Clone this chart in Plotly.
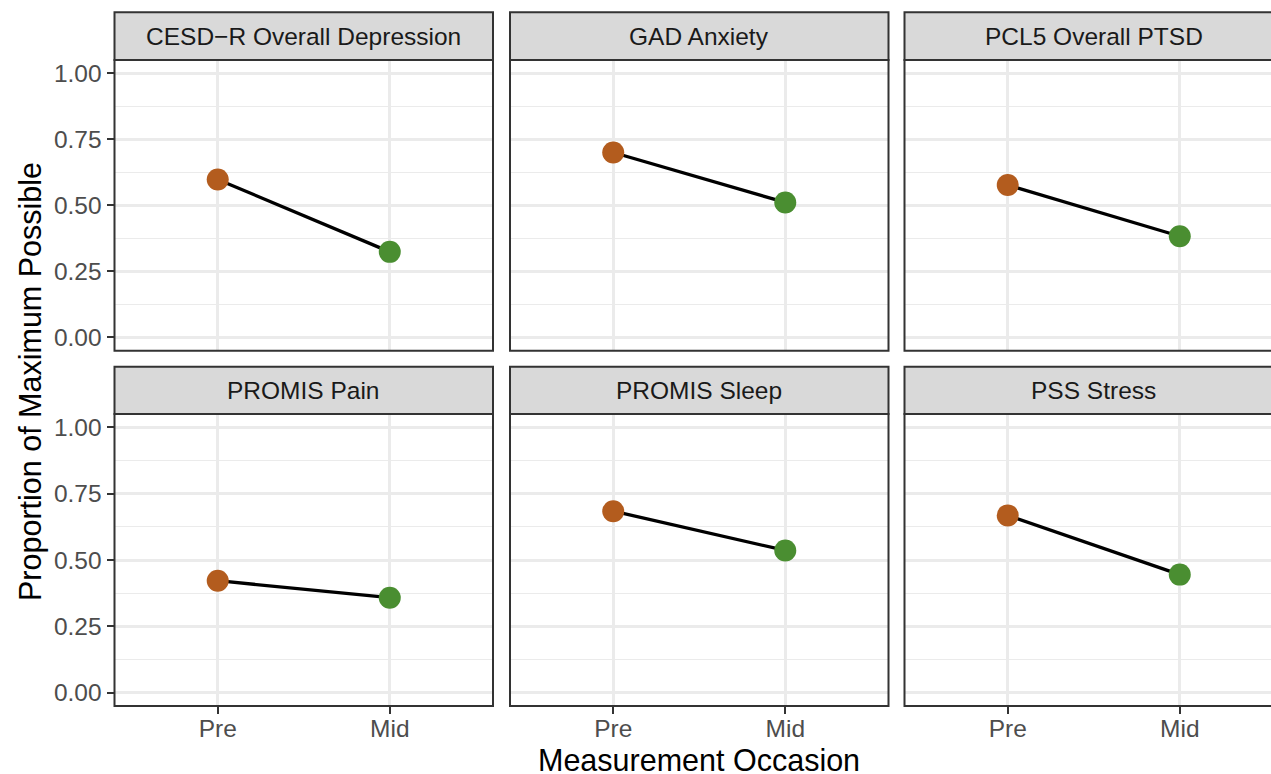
import plotly.graph_objects as go

# ---- data ----
measures = [
    "CESD\u2212R Overall Depression",
    "GAD Anxiety",
    "PCL5 Overall PTSD",
    "PROMIS Pain",
    "PROMIS Sleep",
    "PSS Stress",
]
occasions = ["Pre", "Mid"]
pre_values = [0.598, 0.700, 0.577, 0.422, 0.684, 0.668]
mid_values = [0.324, 0.511, 0.383, 0.358, 0.536, 0.445]
y_tick_values = [0.0, 0.25, 0.5, 0.75, 1.0]
y_tick_labels = ["0.00", "0.25", "0.50", "0.75", "1.00"]
y_minor_values = [0.125, 0.375, 0.625, 0.875]

# ---- styling / layout constants ----
occasion_colors = ["#B35C1E", "#4A8E31"]
FONT = "Liberation Sans, Arial, sans-serif"
W, H = 1271, 774
col_px = [(114.5, 493.0), (510.0, 888.5), (904.5, 1283.0)]
row_px = [(60.0, 350.7), (414.0, 706.0)]
strip_px = [(12.3, 60.0), (366.7, 414.0)]
GRID = "#EBEBEB"
BORDER = "#333333"

fig = go.Figure()
layout_axes = {}
shapes = []
annotations = []

for i, name in enumerate(measures):
    r, c = divmod(i, 3)
    n = i + 1
    xa = "x" if n == 1 else f"x{n}"
    ya = "y" if n == 1 else f"y{n}"
    fig.add_trace(go.Scatter(
        x=occasions, y=[pre_values[i], mid_values[i]],
        mode="lines+markers",
        line=dict(color="black", width=3.3),
        marker=dict(size=22, color=occasion_colors, line=dict(width=0)),
        xaxis=xa, yaxis=ya, showlegend=False, hoverinfo="skip",
    ))
    x0p, x1p = col_px[c]
    vis_right = min(x1p, W)
    xr = [-0.6, -0.6 + 2.2 * (vis_right - x0p) / (x1p - x0p)]
    top, bot = row_px[r]
    xkey = "xaxis" if n == 1 else f"xaxis{n}"
    ykey = "yaxis" if n == 1 else f"yaxis{n}"
    layout_axes[xkey] = dict(
        domain=[x0p / W, vis_right / W], anchor=ya,
        type="category", categoryorder="array", categoryarray=occasions,
        range=xr, showgrid=True, gridcolor=GRID, gridwidth=2.5,
        zeroline=False, showline=False,
        ticks="outside" if r == 1 else "", ticklen=7, tickwidth=2, tickcolor=BORDER,
        showticklabels=(r == 1), ticklabelstandoff=-6,
        tickfont=dict(family=FONT, size=24.5, color="#4D4D4D"),
        fixedrange=True,
    )
    layout_axes[ykey] = dict(
        domain=[1 - bot / H, 1 - top / H], anchor=xa,
        range=[-0.05, 1.05], tickmode="array", tickvals=y_tick_values, ticktext=y_tick_labels,
        showgrid=True, gridcolor=GRID, gridwidth=2.5,
        minor=dict(tickvals=y_minor_values, showgrid=True, gridcolor=GRID, gridwidth=1.2),
        zeroline=False, showline=False,
        ticks="outside" if c == 0 else "", ticklen=7, tickwidth=2, tickcolor=BORDER,
        showticklabels=(c == 0), ticklabelstandoff=0,
        tickfont=dict(family=FONT, size=24.5, color="#4D4D4D"),
        fixedrange=True,
    )
    # panel border
    shapes.append(dict(type="rect", xref="paper", yref="paper",
                       x0=x0p / W, x1=x1p / W, y0=1 - bot / H, y1=1 - top / H,
                       line=dict(color=BORDER, width=2), fillcolor="rgba(0,0,0,0)", layer="above"))
    # strip
    s_top, s_bot = strip_px[r]
    shapes.append(dict(type="rect", xref="paper", yref="paper",
                       x0=x0p / W, x1=x1p / W, y0=1 - s_bot / H, y1=1 - s_top / H,
                       line=dict(color=BORDER, width=2), fillcolor="#D9D9D9", layer="above"))
    annotations.append(dict(text=name, xref="paper", yref="paper",
                            x=(x0p + x1p) / 2 / W, y=1 - (s_top + s_bot) / 2 / H,
                            xanchor="center", yanchor="middle", showarrow=False,
                            font=dict(family=FONT, size=24.5, color="#1A1A1A")))

annotations.append(dict(text="Measurement Occasion", xref="paper", yref="paper",
                        x=699 / W, y=1 - 760 / H, xanchor="center", yanchor="middle",
                        showarrow=False, borderpad=0,
                        font=dict(family=FONT, size=30.5, color="black")))
annotations.append(dict(text="Proportion of Maximum Possible", xref="paper", yref="paper",
                        x=30 / W, y=1 - 382 / H, xanchor="center", yanchor="middle",
                        textangle=-90, showarrow=False,
                        font=dict(family=FONT, size=30.5, color="black")))

fig.update_layout(
    width=W, height=H, autosize=False,
    margin=dict(l=0, r=0, t=0, b=0, pad=0),
    paper_bgcolor="white", plot_bgcolor="white",
    shapes=shapes, annotations=annotations,
    **layout_axes,
)

fig.write_html("out.html", config={"displayModeBar": False})
